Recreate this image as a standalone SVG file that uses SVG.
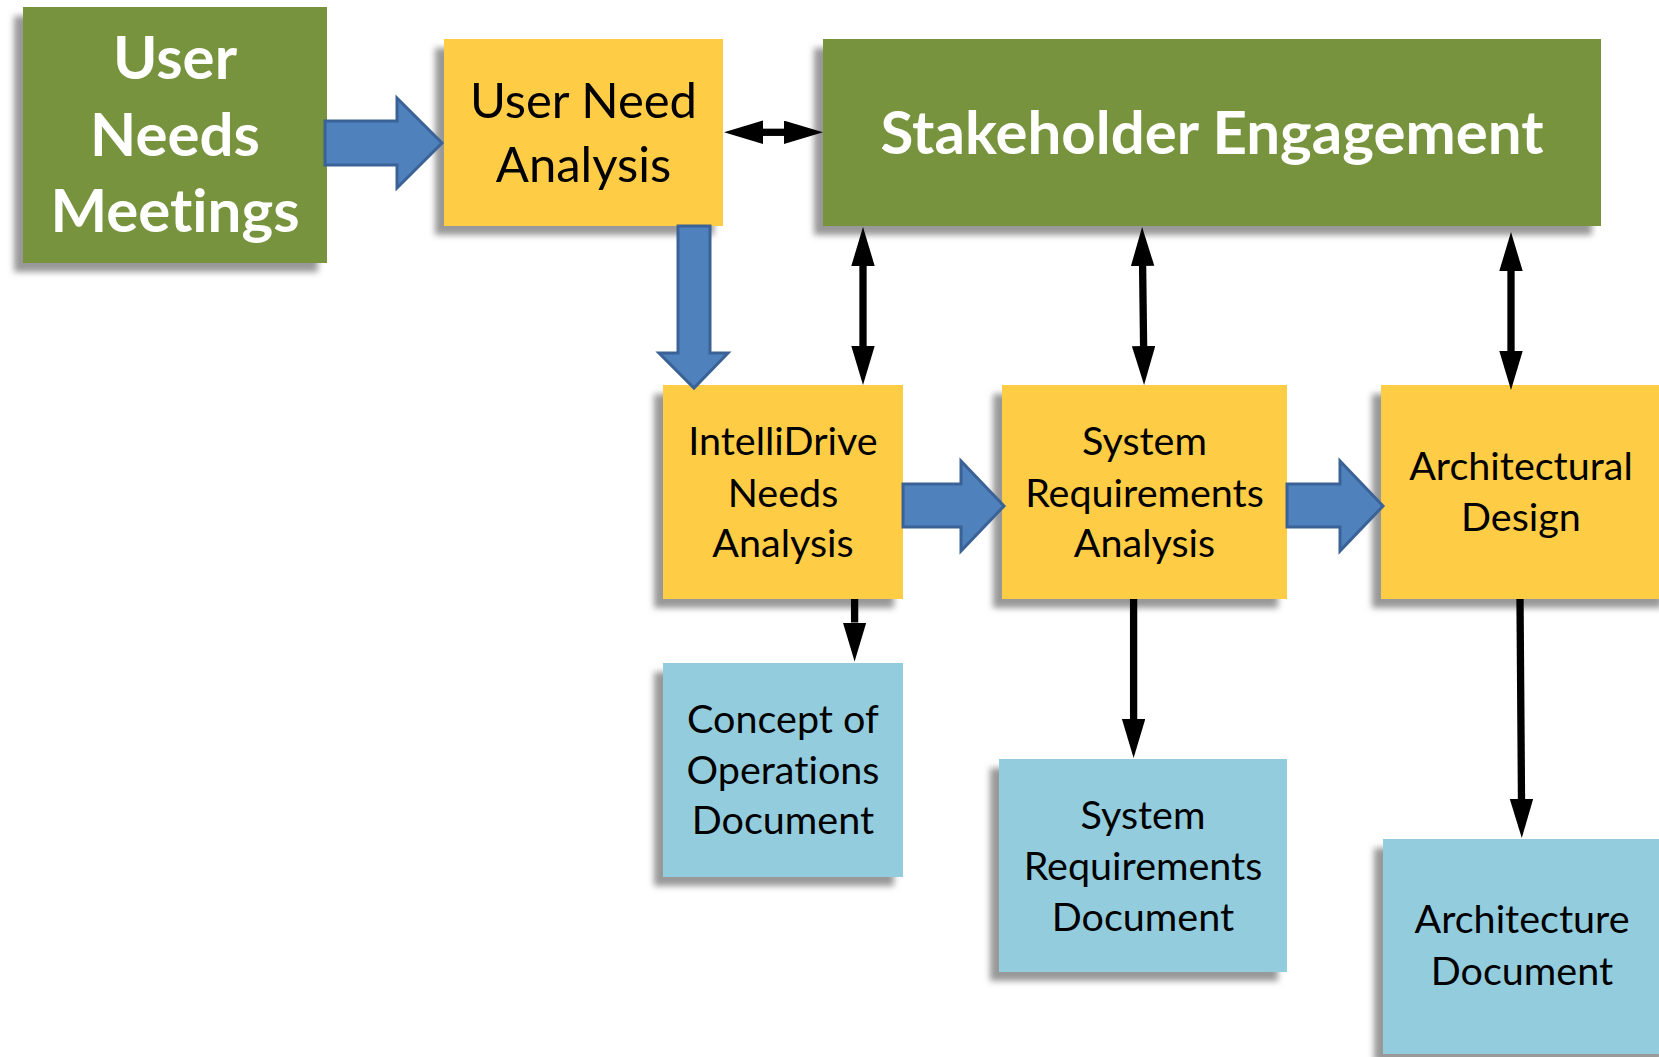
<svg xmlns="http://www.w3.org/2000/svg" width="1659" height="1057" viewBox="0 0 1659 1057">
<defs>
<filter id="sh" x="-10%" y="-10%" width="125%" height="125%">
<feDropShadow dx="-9" dy="9" stdDeviation="3" flood-color="#7f7f7f" flood-opacity="0.8"/>
</filter>
<marker id="ah" markerUnits="userSpaceOnUse" markerWidth="40" markerHeight="24" refX="0" refY="11.7" orient="auto-start-reverse" viewBox="0 0 40 24">
<path d="M0,0 L39,11.7 L0,23.4 Z" fill="#000"/>
</marker>
</defs>
<style>
.green{fill:#77933C;filter:url(#sh)}
.yellow{fill:#FFCD45;filter:url(#sh)}
.aqua{fill:#93CDDD;filter:url(#sh)}
text{font-family:Lato,"Liberation Sans",sans-serif;text-anchor:middle;font-variant-ligatures:none}
.big{font-weight:bold;fill:#fff;font-size:60px}
.mid{fill:#000;font-size:49px}
.sm{fill:#000;font-size:39.5px}
.blk{fill:#4F81BD;stroke:#3B6296;stroke-width:3;stroke-linejoin:miter}
.ln{stroke:#000;stroke-width:7.3;fill:none;marker-end:url(#ah)}
.ln2{stroke:#000;stroke-width:7.3;fill:none;marker-start:url(#ah);marker-end:url(#ah)}
</style>
<rect width="1659" height="1057" fill="#fff"/>

<g id="user-needs-meetings">
<rect class="green" x="23" y="7" width="304" height="256"/>
<text class="big"><tspan x="175" y="79">User</tspan><tspan x="175" y="156">Needs</tspan><tspan x="175" y="232">Meetings</tspan></text>
</g>
<g id="user-need-analysis">
<rect class="yellow" x="444" y="39" width="279" height="187"/>
<text class="mid"><tspan x="583.5" y="118">User Need</tspan><tspan x="583.5" y="182">Analysis</tspan></text>
</g>
<g id="stakeholder-engagement">
<rect class="green" x="823" y="39" width="778" height="187"/>
<text class="big" x="1212" y="154">Stakeholder Engagement</text>
</g>
<g id="intellidrive-needs-analysis">
<rect class="yellow" x="663" y="385" width="240" height="214"/>
<text class="sm"><tspan x="783" y="455">IntelliDrive</tspan><tspan x="783" y="507">Needs</tspan><tspan x="783" y="557">Analysis</tspan></text>
</g>
<g id="system-requirements-analysis">
<rect class="yellow" x="1002" y="385" width="285" height="214"/>
<text class="sm"><tspan x="1144.5" y="455">System</tspan><tspan x="1144.5" y="507">Requirements</tspan><tspan x="1144.5" y="557">Analysis</tspan></text>
</g>
<g id="architectural-design">
<rect class="yellow" x="1381" y="385" width="290" height="214"/>
<text class="sm"><tspan x="1521" y="480">Architectural</tspan><tspan x="1521" y="531">Design</tspan></text>
</g>
<g id="concept-of-operations-document">
<rect class="aqua" x="663" y="663" width="240" height="214"/>
<text class="sm"><tspan x="783" y="733">Concept of</tspan><tspan x="783" y="784">Operations</tspan><tspan x="783" y="834">Document</tspan></text>
</g>
<g id="system-requirements-document">
<rect class="aqua" x="999" y="759" width="288" height="213"/>
<text class="sm"><tspan x="1143" y="829">System</tspan><tspan x="1143" y="880">Requirements</tspan><tspan x="1143" y="931">Document</tspan></text>
</g>
<g id="architecture-document">
<rect class="aqua" x="1383" y="839" width="290" height="215"/>
<text class="sm"><tspan x="1522" y="933">Architecture</tspan><tspan x="1522" y="985">Document</tspan></text>
</g>

<g id="connectors">
<polygon class="blk" points="325,121 397,121 397,98 442,143 397,188 397,165 325,165"/>
<polygon class="blk" points="678,226 710,226 710,353 728,353 694,388 659,353 678,353"/>
<polygon class="blk" points="903,484 961,484 961,461 1004,506 961,551 961,527 903,527"/>
<polygon class="blk" points="1287,484 1340,484 1340,461 1383,506 1340,551 1340,527 1287,527"/>
<line class="ln2" x1="763" y1="132.3" x2="784" y2="132.3"/>
<line class="ln2" x1="863" y1="266" x2="863" y2="346"/>
<line class="ln2" x1="1142.6" y1="266" x2="1143.6" y2="346"/>
<line class="ln2" x1="1511" y1="271" x2="1511" y2="351"/>
<line class="ln" x1="854.6" y1="599" x2="854.6" y2="622.5"/>
<line class="ln" x1="1133.6" y1="599" x2="1133.6" y2="719"/>
<line class="ln" x1="1520" y1="599" x2="1521.5" y2="799"/>
</g>
</svg>
